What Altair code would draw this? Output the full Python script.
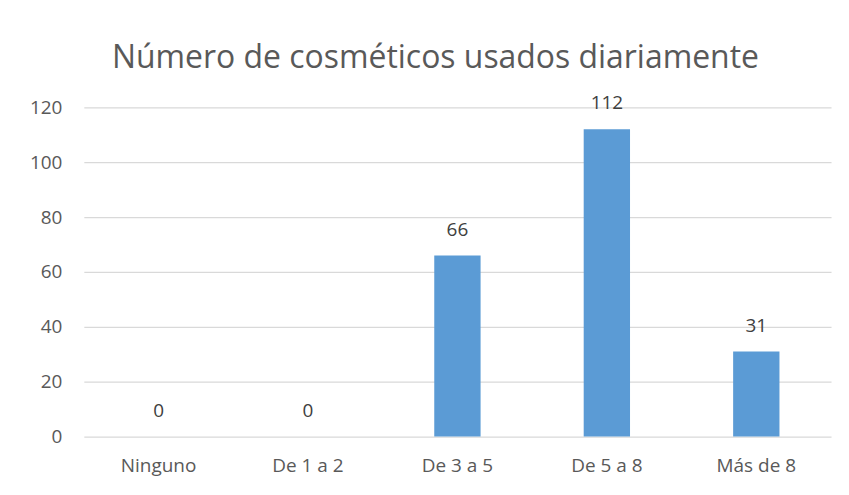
import altair as alt
import pandas as pd

categories = ["Ninguno", "De 1 a 2", "De 3 a 5", "De 5 a 8", "Más de 8"]
values = [0, 0, 66, 112, 31]

df = pd.DataFrame({"cat": categories, "val": values})

FONT = "Open Sans"
GRAY = "#595959"

base = alt.Chart(df).encode(
    x=alt.X("cat:N", sort=categories, title=None,
            scale=alt.Scale(paddingInner=0.69, paddingOuter=0.345),
            axis=alt.Axis(labelAngle=0, domain=False, ticks=False, labelPadding=20,
                          labelFontSize=19, labelColor=GRAY, labelFont=FONT)),
)

bars = base.mark_bar(color="#5B9BD5").encode(
    y=alt.Y("val:Q", title=None,
            scale=alt.Scale(domain=[0, 120], nice=False),
            axis=alt.Axis(values=[0, 20, 40, 60, 80, 100, 120], domain=False, ticks=False,
                          labelPadding=22, labelFontSize=19, labelColor=GRAY, labelFont=FONT,
                          gridColor="#D9D9D9", gridWidth=1.3))
)

labels = base.mark_text(dy=-26, fontSize=19, color="#404040", font=FONT).encode(
    y=alt.Y("val:Q"),
    text=alt.Text("val:Q")
)

chart = alt.layer(bars, labels).properties(
    width=749, height=330,
    title=alt.TitleParams("Número de cosméticos usados diariamente", fontSize=32,
                          font=FONT, fontWeight="normal", color=GRAY, anchor="middle",
                          dx=-22, offset=19),
    autosize=alt.AutoSizeParams(type="none"),
    padding={"left": 76, "top": 99, "right": 10, "bottom": 50},
).configure_view(stroke=None)

chart.save("out.html", embed_options={"renderer": "svg", "actions": False})
